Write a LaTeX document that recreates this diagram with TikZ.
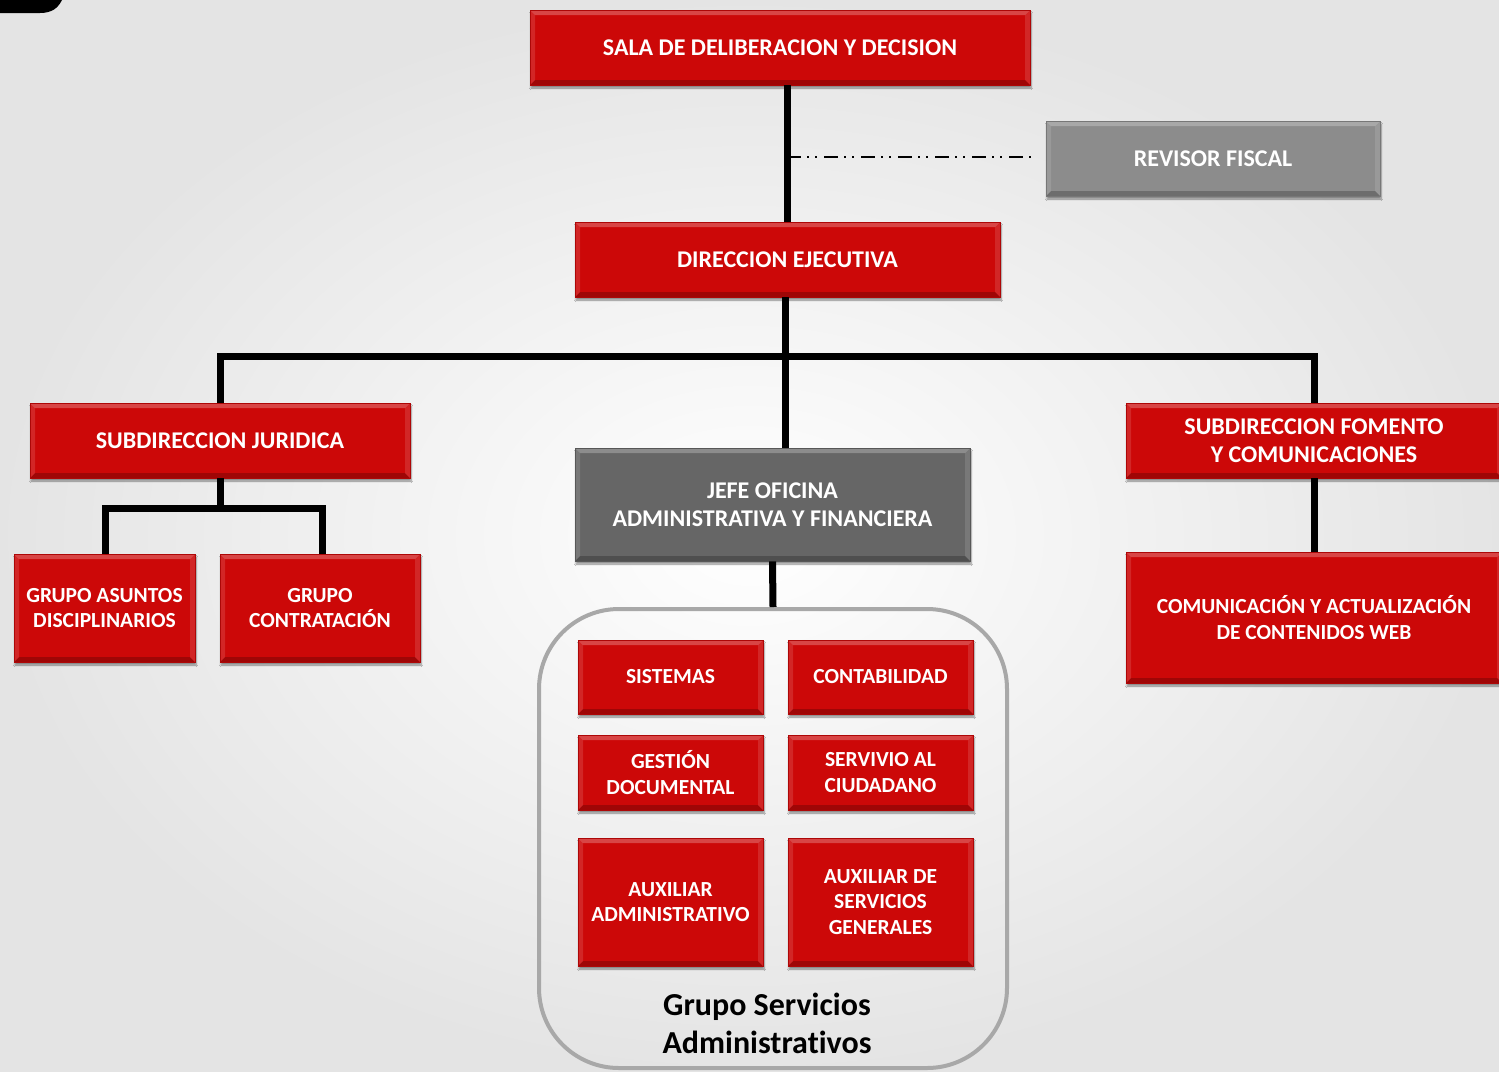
\documentclass[tikz,border=0pt]{standalone}
\usepackage{fontspec}
\setmainfont{Carlito}[Ligatures=CommonOff]
\usetikzlibrary{shadows.blur}
\definecolor{boxred}{RGB}{204,8,8}
\definecolor{revgray}{RGB}{140,140,140}
\definecolor{jefegray}{RGB}{102,102,102}
\definecolor{framegray}{RGB}{168,168,168}
\tikzset{
	bevel/.style={path picture={
		\fill[white,opacity=.25] (path picture bounding box.north west) -- (path picture bounding box.north east)
			-- ([shift={(-5pt,-5pt)}]path picture bounding box.north east) -- ([shift={(5pt,-5pt)}]path picture bounding box.north west) -- cycle;
		\fill[black,opacity=.22] (path picture bounding box.south west) -- (path picture bounding box.south east)
			-- ([shift={(-5pt,5pt)}]path picture bounding box.south east) -- ([shift={(5pt,5pt)}]path picture bounding box.south west) -- cycle;
		\fill[white,opacity=.12] (path picture bounding box.north west) -- ([shift={(5pt,-5pt)}]path picture bounding box.north west)
			-- ([shift={(5pt,5pt)}]path picture bounding box.south west) -- (path picture bounding box.south west) -- cycle;
		\fill[white,opacity=.12] (path picture bounding box.north east) -- ([shift={(-5pt,-5pt)}]path picture bounding box.north east)
			-- ([shift={(-5pt,5pt)}]path picture bounding box.south east) -- (path picture bounding box.south east) -- cycle;
	}},
	unit/.style={fill=boxred, draw=boxred!85!black, line width=0.6pt, text=white, align=center, inner sep=0pt,
		font=\bfseries\fontsize{24}{28}\selectfont, bevel,
		blur shadow={shadow xshift=1pt, shadow yshift=-3pt, shadow blur steps=6, shadow opacity=45}},
	smallunit/.style={unit, font=\bfseries\fontsize{21.5}{25.5}\selectfont, minimum width=185pt},
	link/.style={line width=7pt, line join=miter},
}
\begin{document}
\begin{tikzpicture}[x=1pt, y=-1pt]
	\useasboundingbox (0,0) rectangle (1499,1071);
	\shade[inner color=white, outer color=gray!21] (0,0) rectangle (1499,1071);
	\fill[black] (0,0) -- (0,13) -- (40,13) .. controls (52,13) and (58,8) .. (62,0) -- cycle;

	\node[unit, minimum width=500pt, minimum height=75pt] (sala) at (780,47.5) {SALA DE DELIBERACION Y DECISION};
	\node[unit, fill=revgray, draw=revgray!85!black, minimum width=334pt, minimum height=75pt] (revisor) at (1213,158.5) {REVISOR FISCAL};
	\node[unit, minimum width=425pt, minimum height=75pt] (dir) at (787.5,259.5) {DIRECCION EJECUTIVA};
	\node[unit, minimum width=380pt, minimum height=75pt] (subj) at (220,440.5) {SUBDIRECCION JURIDICA};
	\node[unit, fill=jefegray, draw=jefegray!85!black, minimum width=395pt, minimum height=113pt] (jefe) at (772.5,504.5) {JEFE OFICINA\\ADMINISTRATIVA Y FINANCIERA};
	\node[unit, minimum width=376pt, minimum height=75pt] (subf) at (1314,440.5) {SUBDIRECCION FOMENTO\\Y COMUNICACIONES};
	\node[smallunit, minimum width=181pt, minimum height=108pt] (asuntos) at (104.5,608) {GRUPO ASUNTOS\\DISCIPLINARIOS};
	\node[smallunit, minimum width=200pt, minimum height=108pt] (contrat) at (320,608) {GRUPO\\CONTRATACIÓN};
	\node[smallunit, minimum width=376pt, minimum height=131pt] (comun) at (1314,617.5) {COMUNICACIÓN Y ACTUALIZACIÓN\\DE CONTENIDOS WEB};

	\node[draw=framegray, line width=4pt, rounded corners=80pt, minimum width=468pt, minimum height=459pt] (grupo) at (773,838.5) {};
	\node[smallunit, minimum height=74pt] (sistemas) at (670.5,677) {SISTEMAS};
	\node[smallunit, minimum height=74pt] (contab) at (880.5,677) {CONTABILIDAD};
	\node[smallunit, minimum height=75pt] (gestion) at (670.5,772.5) {GESTIÓN\\DOCUMENTAL};
	\node[smallunit, minimum height=75pt] (servivio) at (880.5,772.5) {SERVIVIO AL\\CIUDADANO};
	\node[smallunit, minimum height=128pt] (auxadm) at (670.5,902) {AUXILIAR\\ADMINISTRATIVO};
	\node[smallunit, minimum height=128pt] (auxserv) at (880.5,902) {AUXILIAR DE\\SERVICIOS\\GENERALES};
	\node[align=center, font=\bfseries\fontsize{32}{38}\selectfont] (grupolbl) at (767,1023) {Grupo Servicios\\Administrativos};

	\coordinate (tap) at (787,157);
	\coordinate (bus) at (785,356);
	\coordinate (fork) at (220,508);

	\draw[link] (sala.south -| tap) -- (dir.north -| tap);
	\draw[line width=2pt, dash pattern=on 14pt off 6pt on 2pt off 6pt on 2pt off 7pt, shorten >=9pt] (tap) -- (tap -| revisor.west);
	\draw[link] (dir.south -| bus) -- (jefe.north -| bus);
	\draw[link] (subj.north) |- (bus) -| (subf.north);
	\draw[link] (subj.south) -- (fork);
	\draw[link] ([xshift=1pt]asuntos.north) |- (fork) -| ([xshift=2pt]contrat.north);
	\draw[link] (subf.south) -- (comun.north);
	\draw[link] (jefe.south) -- (grupo.north);
\end{tikzpicture}
\end{document}
